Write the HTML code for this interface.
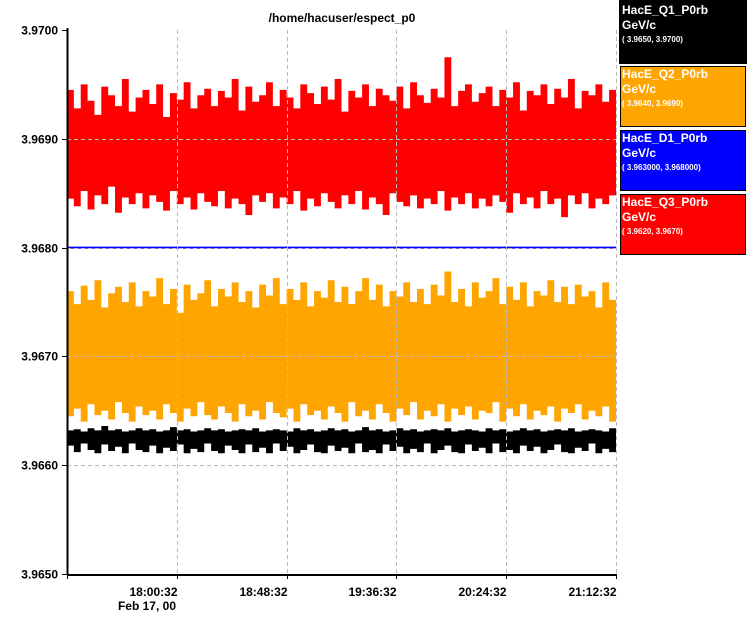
<!DOCTYPE html>
<html><head><meta charset="utf-8"><style>
body{margin:0;background:#fff;}
svg{display:block;font-family:"Liberation Sans",sans-serif;}
</style></head><body>
<svg id="chart" width="748" height="642" viewBox="0 0 748 642">
<text x="342" y="22" text-anchor="middle" font-size="12" font-weight="bold">/home/hacuser/espect_p0</text>
<g id="series"></g>
<g id="grid"></g>
<g id="axes"></g>
<g>
 <g><rect x="619.5" y="0.5" width="127" height="63" fill="#000" stroke="#000"/>
 <text x="622" y="14" fill="#fff" font-size="12" font-weight="bold">HacE_Q1_P0rb</text><text x="622" y="29" fill="#fff" font-size="12" font-weight="bold">GeV/c</text><text x="622" y="42" fill="#fff" font-size="8" font-weight="bold">( 3.9650, 3.9700)</text></g>
 <g><rect x="620.5" y="66.5" width="125" height="60" fill="#ffa500" stroke="#000"/>
 <text x="622" y="78" fill="#fff" font-size="12" font-weight="bold">HacE_Q2_P0rb</text><text x="622" y="93" fill="#fff" font-size="12" font-weight="bold">GeV/c</text><text x="622" y="106" fill="#fff" font-size="8" font-weight="bold">( 3.9640, 3.9690)</text></g>
 <g><rect x="620.5" y="130.5" width="125" height="60" fill="#0000ff" stroke="#000"/>
 <text x="622" y="142" fill="#fff" font-size="12" font-weight="bold">HacE_D1_P0rb</text><text x="622" y="157" fill="#fff" font-size="12" font-weight="bold">GeV/c</text><text x="622" y="170" fill="#fff" font-size="8" font-weight="bold">( 3.963000, 3.968000)</text></g>
 <g><rect x="620.5" y="194.5" width="125" height="60" fill="#ff0000" stroke="#000"/>
 <text x="622" y="206" fill="#fff" font-size="12" font-weight="bold">HacE_Q3_P0rb</text><text x="622" y="221" fill="#fff" font-size="12" font-weight="bold">GeV/c</text><text x="622" y="234" fill="#fff" font-size="8" font-weight="bold">( 3.9620, 3.9670)</text></g>
</g>
</svg>
<script>
const yTicks=[3.9650,3.9660,3.9670,3.9680,3.9690,3.9700];
const xTickLabels=["18:00:32","18:48:32","19:36:32","20:24:32","21:12:32"];
const dateLabel="Feb 17, 00";
const redHi=[3.96945,3.96928,3.96950,3.96935,3.96922,3.96948,3.96940,3.96930,3.96955,3.96925,3.96938,3.96945,3.96932,3.96950,3.96920,3.96942,3.96936,3.96952,3.96928,3.96940,3.96946,3.96930,3.96944,3.96938,3.96955,3.96926,3.96948,3.96934,3.96940,3.96952,3.96930,3.96945,3.96938,3.96928,3.96950,3.96942,3.96932,3.96948,3.96936,3.96955,3.96925,3.96944,3.96938,3.96950,3.96930,3.96946,3.96940,3.96935,3.96948,3.96928,3.96952,3.96940,3.96933,3.96946,3.96938,3.96975,3.96930,3.96944,3.96950,3.96934,3.96942,3.96948,3.96930,3.96945,3.96938,3.96952,3.96926,3.96944,3.96940,3.96950,3.96932,3.96946,3.96938,3.96955,3.96928,3.96944,3.96940,3.96950,3.96934,3.96945];
const redLo=[3.96845,3.96838,3.96852,3.96835,3.96848,3.96840,3.96856,3.96832,3.96846,3.96840,3.96850,3.96836,3.96848,3.96842,3.96834,3.96852,3.96840,3.96846,3.96835,3.96850,3.96842,3.96838,3.96852,3.96836,3.96845,3.96840,3.96830,3.96848,3.96842,3.96850,3.96836,3.96846,3.96840,3.96852,3.96834,3.96845,3.96838,3.96850,3.96842,3.96836,3.96848,3.96840,3.96852,3.96835,3.96846,3.96840,3.96830,3.96850,3.96842,3.96838,3.96848,3.96836,3.96845,3.96840,3.96852,3.96834,3.96846,3.96840,3.96850,3.96836,3.96845,3.96838,3.96848,3.96842,3.96832,3.96850,3.96840,3.96846,3.96836,3.96852,3.96840,3.96845,3.96828,3.96848,3.96840,3.96850,3.96836,3.96845,3.96840,3.96848];
const orangeHi=[3.96760,3.96748,3.96765,3.96752,3.96770,3.96745,3.96758,3.96764,3.96750,3.96768,3.96746,3.96760,3.96755,3.96772,3.96748,3.96762,3.96740,3.96766,3.96752,3.96758,3.96770,3.96746,3.96762,3.96755,3.96768,3.96750,3.96760,3.96745,3.96766,3.96756,3.96772,3.96748,3.96762,3.96752,3.96768,3.96746,3.96760,3.96754,3.96770,3.96750,3.96764,3.96748,3.96760,3.96772,3.96752,3.96766,3.96746,3.96760,3.96755,3.96768,3.96750,3.96762,3.96748,3.96766,3.96756,3.96778,3.96750,3.96762,3.96746,3.96768,3.96754,3.96760,3.96772,3.96748,3.96764,3.96752,3.96768,3.96746,3.96760,3.96756,3.96770,3.96750,3.96764,3.96748,3.96766,3.96755,3.96760,3.96745,3.96768,3.96752];
const orangeLo=[3.96645,3.96652,3.96640,3.96656,3.96646,3.96650,3.96642,3.96658,3.96648,3.96640,3.96654,3.96646,3.96650,3.96642,3.96656,3.96648,3.96640,3.96652,3.96645,3.96658,3.96646,3.96642,3.96654,3.96648,3.96640,3.96656,3.96645,3.96650,3.96642,3.96658,3.96648,3.96644,3.96652,3.96640,3.96656,3.96646,3.96650,3.96642,3.96654,3.96648,3.96640,3.96658,3.96645,3.96650,3.96642,3.96656,3.96648,3.96640,3.96652,3.96646,3.96658,3.96642,3.96650,3.96645,3.96656,3.96640,3.96652,3.96646,3.96654,3.96642,3.96650,3.96648,3.96658,3.96640,3.96652,3.96645,3.96656,3.96642,3.96650,3.96646,3.96654,3.96640,3.96652,3.96648,3.96656,3.96642,3.96650,3.96645,3.96654,3.96640];
const blackHi=[3.96632,3.96633,3.96631,3.96634,3.96632,3.96636,3.96632,3.96633,3.96631,3.96632,3.96634,3.96632,3.96633,3.96631,3.96632,3.96635,3.96632,3.96633,3.96631,3.96632,3.96634,3.96632,3.96633,3.96631,3.96632,3.96633,3.96632,3.96634,3.96631,3.96632,3.96633,3.96632,3.96631,3.96634,3.96632,3.96633,3.96631,3.96632,3.96634,3.96632,3.96633,3.96631,3.96632,3.96635,3.96632,3.96633,3.96631,3.96632,3.96634,3.96632,3.96633,3.96631,3.96632,3.96633,3.96632,3.96634,3.96631,3.96632,3.96633,3.96632,3.96631,3.96634,3.96632,3.96633,3.96631,3.96632,3.96634,3.96632,3.96633,3.96631,3.96632,3.96633,3.96632,3.96634,3.96631,3.96632,3.96633,3.96632,3.96631,3.96634];
const blackLo=[3.96618,3.96612,3.96620,3.96614,3.96611,3.96619,3.96613,3.96617,3.96611,3.96620,3.96614,3.96612,3.96618,3.96611,3.96616,3.96613,3.96619,3.96611,3.96615,3.96612,3.96620,3.96613,3.96611,3.96618,3.96614,3.96611,3.96619,3.96612,3.96616,3.96611,3.96620,3.96613,3.96617,3.96611,3.96614,3.96619,3.96612,3.96611,3.96618,3.96613,3.96616,3.96611,3.96620,3.96612,3.96614,3.96611,3.96619,3.96613,3.96617,3.96611,3.96615,3.96612,3.96620,3.96611,3.96614,3.96618,3.96612,3.96611,3.96619,3.96613,3.96616,3.96611,3.96620,3.96612,3.96614,3.96611,3.96618,3.96613,3.96617,3.96611,3.96614,3.96619,3.96612,3.96611,3.96616,3.96613,3.96620,3.96611,3.96615,3.96612];
const blueValue=3.9680;

const X0=67,X1=616,Y0=574,Y1=30,VMIN=3.9650,VMAX=3.9700;
const NS="http://www.w3.org/2000/svg";
function yS(v){return Y0-(v-VMIN)/(VMAX-VMIN)*(Y0-Y1);}
function xS(i,n){return X0+i/(n-1)*(X1-X0);}
function mk(tag,attrs,parent){const e=document.createElementNS(NS,tag);for(const k in attrs)e.setAttribute(k,attrs[k]);parent.appendChild(e);return e;}
const S=document.getElementById('series'),G=document.getElementById('grid'),A=document.getElementById('axes');

function band(hi,lo,color,name){
  const n=hi.length,w=(X1-X0)/n;let top=[],bot=[];
  for(let i=0;i<n;i++){const xa=X0+i*w,xb=xa+w;top.push(xa+','+yS(hi[i]),xb+','+yS(hi[i]));}
  for(let i=n-1;i>=0;i--){const xa=X0+i*w,xb=xa+w;bot.push(xb+','+yS(lo[i]),xa+','+yS(lo[i]));}
  const p=mk('polygon',{points:top.concat(bot).join(' '),fill:color},S);
  
  
}
band(redHi,redLo,'#ff0000','series-q3');
band(orangeHi,orangeLo,'#ffa500','series-q2');
band(blackHi,blackLo,'#000000','series-q1');
const bl=mk('line',{x1:X0,x2:X1,y1:yS(blueValue),y2:yS(blueValue),stroke:'#0000ff','stroke-width':2},S);



yTicks.forEach((v,i)=>{
  const y=Math.round(yS(v))+0.5;
  if(i>0&&i<yTicks.length-1){const g=mk('line',{x1:X0,x2:X1,y1:y,y2:y,stroke:'#bbb','stroke-dasharray':'4,3'},G);
  
  }
  mk('line',{x1:X0-5,x2:X0,y1:y,y2:y,stroke:'#000'},A);
  const t=mk('text',{x:X0-9,y:y+4,'text-anchor':'end','font-size':12,'font-weight':'bold'},A);
  t.textContent=v.toFixed(4);
  
  
});
xTickLabels.forEach((lab,i)=>{
  const x=Math.round(X0+(i+1)/xTickLabels.length*(X1-X0))+0.5;
  const g=mk('line',{x1:x,x2:x,y1:Y1,y2:Y0,stroke:'#bbb','stroke-dasharray':'4,3'},G);
  
  
  mk('line',{x1:x,x2:x,y1:Y0,y2:Y0+5,stroke:'#000'},A);
  const t=mk('text',{x:x,y:Y0+22,'text-anchor':'end','font-size':12,'font-weight':'bold'},A);
  t.textContent=lab;
  
  
});
mk('line',{x1:X0+0.5,x2:X0+0.5,y1:Y0+5,y2:Y0,stroke:'#000'},A);
const dl=mk('text',{x:176,y:Y0+36,'text-anchor':'end','font-size':12,'font-weight':'bold'},A);
dl.textContent=dateLabel;


const ya=mk('line',{x1:X0+0.5,x2:X0+0.5,y1:Y1-2,y2:Y0+1,stroke:'#000','stroke-width':2},A);


const xa=mk('line',{x1:X0,x2:X1+1,y1:Y0+1,y2:Y0+1,stroke:'#000','stroke-width':2},A);


</script>
</body></html>
